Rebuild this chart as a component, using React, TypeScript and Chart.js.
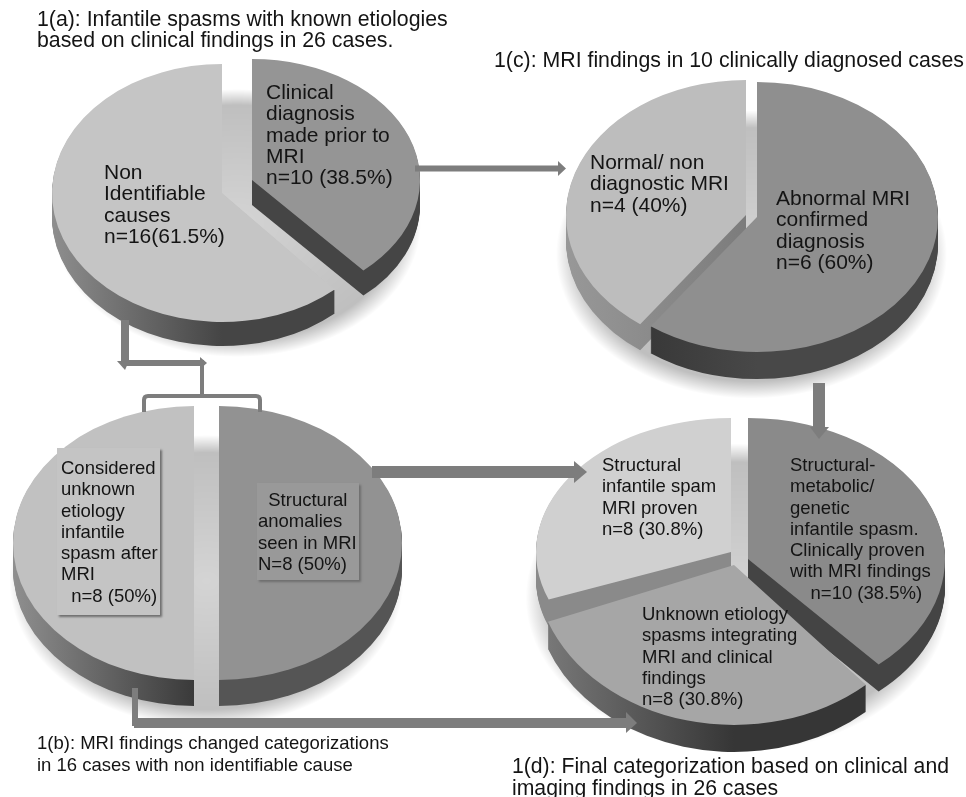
import React, { useEffect, useRef } from "react";
import { Chart, registerables } from "chart.js";

Chart.register(...registerables);

// Case counts for each of the four panels
const clinicalLabels = ["Clinical diagnosis made prior to MRI", "Non Identifiable causes"];
const clinicalCases = [10, 16];
const mriFindingLabels = ["Abnormal MRI confirmed diagnosis", "Normal/ non diagnostic MRI"];
const mriFindingCases = [6, 4];
const recategorizedLabels = ["Structural anomalies seen in MRI", "Considered unknown etiology infantile spasm after MRI"];
const recategorizedCases = [8, 8];
const finalLabels = ["Structural-metabolic/genetic infantile spasm", "Unknown etiology spasms", "Structural infantile spam MRI proven"];
const finalCases = [10, 8, 8];

type Slice = { cx: number; cy: number; rx: number; ry: number; depth: number; top: string; side: [string, string] };
type Panel = { labels: string[]; values: number[]; slices: Slice[]; order: number[] };

const panels: Panel[] = [
  {
    labels: clinicalLabels,
    values: clinicalCases,
    order: [1, 0],
    slices: [
      { cx: 252, cy: 180, rx: 168, ry: 121, depth: 25, top: "#959595", side: ["#303030", "#454545"] },
      { cx: 222, cy: 193, rx: 170, ry: 129, depth: 24, top: "#c5c5c5", side: ["#8e8e8e", "#454545"] },
    ],
  },
  {
    labels: mriFindingLabels,
    values: mriFindingCases,
    order: [1, 0],
    slices: [
      { cx: 757, cy: 217, rx: 181, ry: 135, depth: 27, top: "#8f8f8f", side: ["#2e2e2e", "#484848"] },
      { cx: 746, cy: 215, rx: 180, ry: 135, depth: 26, top: "#bdbdbd", side: ["#989898", "#7c7c7c"] },
    ],
  },
  {
    labels: recategorizedLabels,
    values: recategorizedCases,
    order: [0, 1],
    slices: [
      { cx: 219, cy: 543, rx: 183, ry: 137, depth: 26, top: "#929292", side: ["#333333", "#555555"] },
      { cx: 194, cy: 543, rx: 181, ry: 137, depth: 26, top: "#c1c1c1", side: ["#8f8f8f", "#3a3a3a"] },
    ],
  },
  {
    labels: finalLabels,
    values: finalCases,
    order: [2, 0, 1],
    slices: [
      { cx: 748, cy: 559, rx: 197, ry: 141, depth: 27, top: "#8a8a8a", side: ["#2e2e2e", "#444444"] },
      { cx: 734, cy: 565, rx: 199, ry: 160, depth: 27, top: "#a6a6a6", side: ["#7c7c7c", "#363636"] },
      { cx: 731, cy: 552, rx: 195, ry: 134, depth: 27, top: "#d0d0d0", side: ["#8a8a8a", "#8a8a8a"] },
    ],
  },
];

// Extruded, squashed pie: each sector is translated and scaled into an ellipse, with a stacked side wall
const extrudedPie = {
  id: "extrudedPie",
  beforeDatasetDraw(chart: any, args: any, opts: any) {
    const { ctx } = chart;
    const panel: Panel = opts.panel;
    const arcs = args.meta.data;
    const place = (s: Slice, a: any, dy: number) => {
      ctx.translate(s.cx, s.cy + dy);
      ctx.scale(s.rx / a.outerRadius, s.ry / a.outerRadius);
      ctx.translate(-a.x, -a.y);
    };
    const sector = (a: any) => {
      ctx.beginPath();
      ctx.moveTo(a.x, a.y);
      ctx.arc(a.x, a.y, a.outerRadius, a.startAngle, a.endAngle);
      ctx.closePath();
    };

    // Soft haze on the ground below the pie, showing through the gaps between slices
    const n = panel.slices.length;
    const mean = (f: (s: Slice) => number) => panel.slices.reduce((t, s) => t + f(s), 0) / n;
    const first = arcs[0].getProps(["x", "y", "outerRadius"]);
    const R = first.outerRadius;
    ctx.save();
    ctx.translate(mean((s) => s.cx), mean((s) => s.cy + s.depth) + 12);
    ctx.scale((mean((s) => s.rx) + 15) / R, (mean((s) => s.ry) + 9) / R);
    const haze = ctx.createRadialGradient(0, 0, 0, 0, 0, R);
    haze.addColorStop(0, "rgba(0,0,0,0.17)");
    haze.addColorStop(0.88, "rgba(0,0,0,0.25)");
    haze.addColorStop(1, "rgba(0,0,0,0)");
    ctx.fillStyle = haze;
    ctx.beginPath();
    ctx.arc(0, 0, R, 0, Math.PI * 2);
    ctx.fill();
    ctx.restore();

    panel.order.forEach((i) => {
      const s = panel.slices[i];
      const a = arcs[i].getProps(["x", "y", "outerRadius", "startAngle", "endAngle"]);
      const g = ctx.createLinearGradient(a.x - a.outerRadius, 0, a.x + a.outerRadius, 0);
      g.addColorStop(0, s.side[0]);
      g.addColorStop(0.5, s.side[1]);
      g.addColorStop(1, s.side[1]);
      for (let d = s.depth; d >= 1; d--) {
        ctx.save();
        place(s, a, d);
        ctx.fillStyle = g;
        sector(a);
        ctx.fill();
        ctx.restore();
      }
      ctx.save();
      place(s, a, 0);
      arcs[i].draw(ctx);
      ctx.restore();
    });
    return false;
  },
};

function PiePanel({ panel }: { panel: Panel }) {
  const ref = useRef<HTMLCanvasElement>(null);
  useEffect(() => {
    const chart = new Chart(ref.current!, {
      type: "pie",
      data: {
        labels: panel.labels,
        datasets: [
          {
            data: panel.values,
            backgroundColor: panel.slices.map((s) => s.top),
            borderWidth: 0,
          },
        ],
      },
      options: {
        animation: false,
        responsive: false,
        events: [],
        plugins: { legend: { display: false }, tooltip: { enabled: false }, extrudedPie: { panel } } as any,
      },
      plugins: [extrudedPie],
    });
    return () => chart.destroy();
  }, [panel]);
  return <canvas ref={ref} width={966} height={797} style={{ position: "absolute", left: 0, top: 0, pointerEvents: "none" }} />;
}

const FONT = '"Liberation Sans", Arial, sans-serif';

function Text({ x, y, size, pitch = 21.3, lines }: { x: number; y: number; size: number; pitch?: number; lines: string[] }) {
  return (
    <div style={{ position: "absolute", left: x, top: y, font: `${size}px/${pitch}px ${FONT}`, color: "#141414", whiteSpace: "pre" }}>
      {lines.map((l, i) => (
        <div key={i}>{l}</div>
      ))}
    </div>
  );
}

function Note({ x, y, w, h, fill }: { x: number; y: number; w: number; h: number; fill: string }) {
  return <div style={{ position: "absolute", left: x, top: y, width: w, height: h, background: fill, boxShadow: "2px 2px 2px #6f6f6f" }} />;
}

// Connector arrows between the panels
function Connectors() {
  const c = "#7d7d7d";
  return (
    <svg width={966} height={797} style={{ position: "absolute", left: 0, top: 0 }}>
      <g fill={c}>
        <rect x={415} y={165.5} width={144} height={6} />
        <polygon points="558,161 566,168.5 558,176" />
        <rect x={372} y={466} width={204} height={12} />
        <polygon points="574,461 587,472 574,483" />
        <rect x={813} y={383} width={12} height={44} />
        <polygon points="810,427 829,427 819,439" />
        <rect x={132} y={688} width={6} height={38} />
        <rect x={134} y={718} width={494} height={10} />
        <polygon points="626,712 637,723 626,733" />
        <rect x={121} y={320} width={8} height={44} />
        <polygon points="117,361 129,361 125,370" />
        <rect x={125} y={360} width={79} height={6} />
        <polygon points="200,357 207,363 200,369" />
      </g>
      <path d="M202 363 V395 M144 412 V400 Q144 396 148 396 H256 Q260 396 260 400 V412" fill="none" stroke={c} strokeWidth={4} />
    </svg>
  );
}

export default function App() {
  return (
    <div style={{ position: "absolute", left: 0, top: 0, width: 966, height: 797, background: "#fff", overflow: "hidden" }}>
      {panels.map((p, i) => (
        <PiePanel key={i} panel={p} />
      ))}
      <Note x={57} y={448} w={103} h={167} fill="#c4c4c4" />
      <Note x={257} y={483} w={102} h={97} fill="#999999" />
      <Connectors />
      <Text x={37} y={9} size={21.3} lines={["1(a): Infantile spasms with known etiologies", "based on clinical findings in 26 cases."]} />
      <Text x={266} y={81} size={21} lines={["Clinical", "diagnosis", "made prior to", "MRI", "n=10 (38.5%)"]} />
      <Text x={104} y={161} size={21} lines={["Non", "Identifiable", "causes", "n=16(61.5%)"]} />
      <Text x={494} y={50} size={21.3} lines={["1(c): MRI findings in 10 clinically diagnosed cases"]} />
      <Text x={590} y={151} size={21} lines={["Normal/ non", "diagnostic MRI", "n=4 (40%)"]} />
      <Text x={776} y={187} size={21} lines={["Abnormal MRI", "confirmed", "diagnosis", "n=6 (60%)"]} />
      <Text x={61} y={457} size={18.5} lines={["Considered", "unknown", "etiology", "infantile", "spasm after", "MRI", "  n=8 (50%)"]} />
      <Text x={258} y={489} size={18.5} lines={["  Structural", "anomalies", "seen in MRI", "N=8 (50%)"]} />
      <Text x={37} y={732} size={18.5} pitch={22} lines={["1(b): MRI findings changed categorizations", "in 16 cases with non identifiable cause"]} />
      <Text x={602} y={454} size={18.5} lines={["Structural", "infantile spam", "MRI proven", "n=8 (30.8%)"]} />
      <Text x={790} y={454} size={18.5} lines={["Structural-", "metabolic/", "genetic", "infantile spasm.", "Clinically proven", "with MRI findings", "    n=10 (38.5%)"]} />
      <Text x={642} y={603} size={18.5} lines={["Unknown etiology", "spasms integrating", "MRI and clinical", "findings", "n=8 (30.8%)"]} />
      <Text x={512} y={755} size={21.2} pitch={21.6} lines={["1(d): Final categorization based on clinical and", "imaging findings in 26 cases"]} />
    </div>
  );
}
